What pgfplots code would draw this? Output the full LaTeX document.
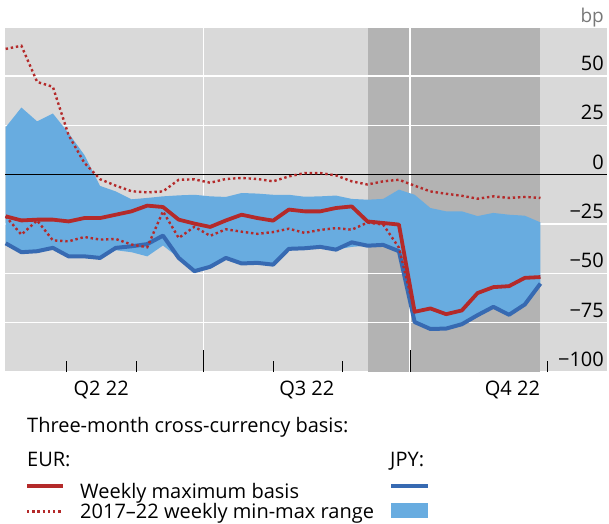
\documentclass[border=0pt]{standalone}
\usepackage{pgfplots}
\pgfplotsset{compat=1.18}
\usepackage{pgfplotstable}
\usepackage{fontspec}
\setmainfont{Open Sans}
\definecolor{bgray}{RGB}{217,217,217}
\definecolor{dgray}{RGB}{179,179,179}
\definecolor{areablue}{RGB}{104,172,224}
\definecolor{lineblue}{RGB}{55,106,178}
\definecolor{bisred}{RGB}{180,42,42}
\definecolor{bpgray}{RGB}{120,120,120}
\newcommand{\shadeband}[4]{\addplot[fill=dgray, draw=none, forget plot] coordinates {(#1,#3) (#2,#3) (#2,#4) (#1,#4)};}

\pgfplotstableread{
d eurmax eurhi eurlo jpy
3 -21.1 63.7 -21.1 -34.8
10 -23.2 65.3 -30.4 -39.3
17 -22.8 47.0 -23.2 -38.8
24 -22.8 44.5 -33.3 -37.1
31 -23.7 20.0 -33.8 -41.4
38 -22.0 6.0 -31.6 -41.4
45 -22.0 -2.3 -32.9 -42.2
52 -20.3 -5.6 -32.6 -37.1
59 -18.6 -8.4 -35.4 -36.3
66 -15.7 -9.0 -36.8 -35.2
73 -16.4 -8.5 -18.6 -30.9
80 -22.8 -2.6 -32.1 -42.2
87 -24.8 -2.4 -26.4 -48.9
94 -26.5 -4.1 -31.0 -46.7
101 -23.2 -2.2 -27.7 -42.2
108 -20.3 -1.7 -28.9 -45.0
115 -22.0 -2.2 -30.0 -44.7
122 -23.3 -3.4 -29.1 -45.6
129 -17.7 -0.9 -27.4 -37.6
136 -18.6 0.8 -29.5 -37.3
143 -18.6 0.8 -28.0 -36.6
150 -16.9 -0.4 -27.1 -38.0
157 -16.1 -3.4 -27.9 -34.3
164 -23.7 -5.0 -24.3 -36.0
171 -24.5 -3.4 -25.3 -35.6
178 -25.3 -2.6 -37.0 -38.8
185 -69.5 -5.6 -69.5 -74.7
192 -67.8 -8.5 -67.8 -78.2
199 -70.7 -9.7 -70.7 -78.0
206 -68.8 -10.7 -68.8 -75.8
213 -60.0 -12.2 -60.0 -71.2
220 -57.0 -11.0 -57.0 -67.0
227 -56.5 -11.8 -56.5 -71.0
234 -52.3 -11.3 -52.3 -65.8
241 -51.9 -11.8 -51.9 -55.2
}\datatable

% JPY 2017-22 min-max range: upper edge forward, lower edge backward
\pgfplotstableread{
d v
3 24.0
10 34.0
17 27.0
24 31.0
31 21.0
38 10.0
45 -5.7
52 -8.5
59 -12.5
66 -11.8
73 -11.0
80 -10.5
87 -10.2
94 -11.0
101 -11.3
108 -9.3
115 -9.6
122 -10.2
129 -10.2
136 -11.2
143 -11.0
150 -10.6
157 -12.3
164 -12.7
171 -12.3
178 -7.6
185 -10.2
192 -16.9
199 -18.6
206 -18.6
213 -21.0
220 -19.4
227 -20.3
234 -20.8
241 -24.2
241 -55.2
234 -65.8
227 -71.0
220 -67.0
213 -71.2
206 -75.8
199 -78.0
192 -78.2
185 -74.7
178 -38.8
171 -35.6
164 -36.0
157 -36.6
150 -38.0
143 -36.6
136 -37.3
129 -37.6
122 -45.6
115 -44.7
108 -45.0
101 -42.2
94 -46.7
87 -48.9
80 -42.2
73 -35.9
66 -41.4
59 -39.3
52 -38.3
45 -42.2
38 -41.4
31 -41.4
24 -37.1
17 -38.8
10 -39.3
3 -34.8
}\jpyrange

\begin{document}
\begin{tikzpicture}
\begin{axis}[
  at={(0pt,0pt)}, anchor=south west,
  width=602pt, height=344pt, scale only axis,
  xmin=2.7, xmax=270.6, ymin=-100, ymax=74.3,
  axis background/.style={fill=bgray},
  axis line style={draw=none},
  tick align=inside,
  xtick pos=bottom,
  ytick pos=right,
  xtick={45.5,137,228.5},
  xticklabels={Q2 22,Q3 22,Q4 22},
  major tick length=0pt,
  minor xtick={30,61,122,153,214,244},
  minor tick length=11pt,
  x tick style={black, line width=0.8pt},
  extra x ticks={91,183},
  extra x tick labels={},
  extra x tick style={grid=major, major tick length=22pt},
  ytick={-100,-75,-50,-25,0,25,50},
  yticklabels={−100,−75,−50,−25,0,25,50},
  y tick style={draw=none},
  ymajorgrids=true,
  grid style={white, line width=1.5pt},
  major grid style={white, line width=1.5pt},
  yticklabel pos=right,
  tick label style={font=\fontsize{20}{24}\selectfont, inner sep=0pt},
  yticklabel style={anchor=base east, xshift=-3pt, yshift=5.5pt},
  xticklabel style={anchor=base, yshift=-23pt},
  clip=false,
]
% shaded period, in bands that leave the white grid lines visible
\shadeband{164.3}{182.67}{-100}{-75.38}
\shadeband{164.3}{182.67}{-74.62}{-50.38}
\shadeband{164.3}{182.67}{-49.62}{-25.38}
\shadeband{164.3}{182.67}{-24.62}{24.62}
\shadeband{164.3}{182.67}{25.38}{49.62}
\shadeband{164.3}{182.67}{50.38}{74.3}
\shadeband{183.33}{241}{-100}{-75.38}
\shadeband{183.33}{241}{-74.62}{-50.38}
\shadeband{183.33}{241}{-49.62}{-25.38}
\shadeband{183.33}{241}{-24.62}{24.62}
\shadeband{183.33}{241}{25.38}{49.62}
\shadeband{183.33}{241}{50.38}{74.3}
% JPY range
\addplot[fill=areablue, draw=none, forget plot] table[x=d, y=v] {\jpyrange};
\addplot[black, line width=1.6pt, forget plot] coordinates {(2.7,0) (270.6,0)};
\addplot[lineblue, line width=4pt, line join=round] table[x=d, y=jpy] {\datatable};
\addplot[bisred, line width=3.8pt, line join=round] table[x=d, y=eurmax] {\datatable};
\addplot[bisred, line width=2.4pt, dash pattern=on 2.4pt off 2.8pt] table[x=d, y=eurhi] {\datatable};
\addplot[bisred, line width=2.4pt, dash pattern=on 2.4pt off 2.8pt] table[x=d, y=eurlo] {\datatable};
\node[anchor=base east, inner sep=0pt, font=\fontsize{19}{22}\selectfont, text=bpgray] at (rel axis cs:1,1) [xshift=-3pt, yshift=5.3pt] {bp};
\end{axis}
\begin{scope}[font=\fontsize{20}{24}\selectfont]
\node[anchor=base west, inner sep=0pt] at (22pt,-60pt) {Three-month cross-currency basis:};
\node[anchor=base west, inner sep=0pt] at (22pt,-94.5pt) {EUR:};
\node[anchor=base west, inner sep=0pt] at (385pt,-94.5pt) {JPY:};
\draw[bisred, line width=4pt] (22pt,-114pt) -- (58pt,-114pt);
\node[anchor=base west, inner sep=0pt] at (75pt,-126.5pt) {Weekly maximum basis};
\draw[bisred, line width=2.4pt, dash pattern=on 2.4pt off 2.8pt] (22pt,-139.5pt) -- (58pt,-139.5pt);
\node[anchor=base west, inner sep=0pt] at (75pt,-146.3pt) {2017–22 weekly min-max range};
\draw[lineblue, line width=4pt] (386pt,-114pt) -- (423pt,-114pt);
\fill[areablue] (386pt,-131pt) rectangle (423pt,-146pt);
\end{scope}
\pgfresetboundingbox
\useasboundingbox (-5pt,-151pt) rectangle (604pt,372pt);
\end{tikzpicture}
\end{document}
